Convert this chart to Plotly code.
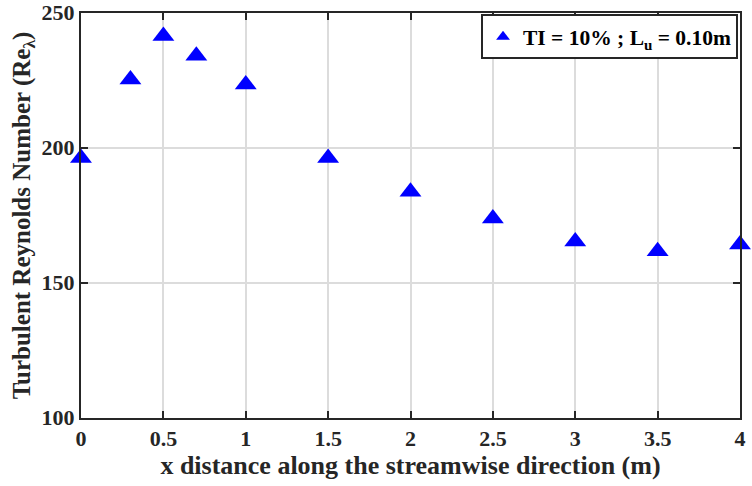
import plotly.graph_objects as go

x_vals = [0, 0.3, 0.5, 0.7, 1.0, 1.5, 2.0, 2.5, 3.0, 3.5, 4.0]
re_lambda = [196.3, 225.4, 241.5, 234.2, 223.5, 196.3, 183.8, 173.9, 165.4, 161.8, 164.3]
x_ticks = [0, 0.5, 1, 1.5, 2, 2.5, 3, 3.5, 4]
x_tick_labels = ["0", "0.5", "1", "1.5", "2", "2.5", "3", "3.5", "4"]
y_ticks = [100, 150, 200, 250]

font_family = "Liberation Serif"
ink = "#262626"

fig = go.Figure()
fig.add_trace(go.Scatter(
    x=x_vals, y=re_lambda, mode="markers",
    marker=dict(symbol="triangle-up", size=19, color="#0000ff", line=dict(width=0)),
    name="<b>TI = 10% ; L<sub>u</sub> = 0.10m</b>",
    cliponaxis=False,
))

axis_common = dict(
    showline=True, linecolor=ink, linewidth=2, mirror="ticks",
    ticks="inside", ticklen=7, tickwidth=2, tickcolor=ink,
    showgrid=True, gridcolor="#dcdcdc", gridwidth=1.5, zeroline=False,
    tickfont=dict(family=font_family, size=22, color=ink),
    automargin=False, ticklabeloverflow="allow",
)

fig.update_layout(
    width=752, height=486,
    margin=dict(l=81, r=12, t=13, b=68),
    paper_bgcolor="white", plot_bgcolor="white",
    font=dict(family=font_family, color=ink),
    showlegend=True,
    legend=dict(
        x=0.997, y=0.997, xanchor="right", yanchor="top",
        bordercolor=ink, borderwidth=2, bgcolor="white",
        font=dict(family=font_family, size=21.5, color="black"),
        itemsizing="constant",
    ),
    xaxis=dict(
        range=[0, 4], tickvals=x_ticks,
        ticktext=[f"<b>{t}</b>" for t in x_tick_labels],
        title=dict(text="<b>x distance along the streamwise direction (m)</b>",
                   font=dict(family=font_family, size=26, color=ink), standoff=2),
        **axis_common,
    ),
    yaxis=dict(
        range=[100, 250], tickvals=y_ticks,
        ticktext=[f"<b>{v}</b>" for v in y_ticks],
        ticklabelshift=-1,
        title=dict(text="<b>Turbulent Reynolds Number (Re<sub>λ</sub>)</b>",
                   font=dict(family=font_family, size=25, color=ink), standoff=4),
        **axis_common,
    ),
)

fig.write_html("out.html")
